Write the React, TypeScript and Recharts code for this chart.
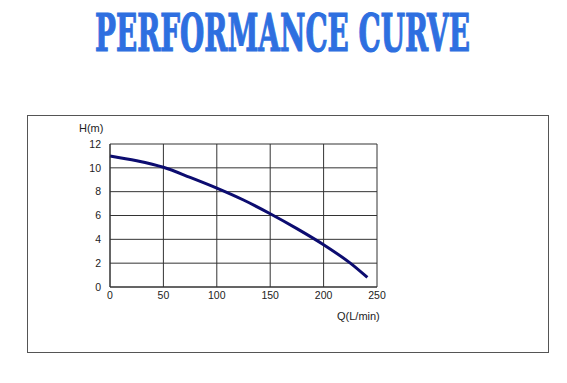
import React, { useLayoutEffect, useRef, useState } from 'react';
import { LineChart, Line, XAxis, YAxis, CartesianGrid } from 'recharts';

const flowQ = [0, 25, 50, 75, 100, 125, 150, 175, 200, 225, 241];
const headH = [11.0, 10.6, 10.05, 9.2, 8.3, 7.3, 6.15, 4.9, 3.55, 2.0, 0.8];
const xTicks = [0, 50, 100, 150, 200, 250];
const yTicks = [0, 2, 4, 6, 8, 10, 12];
const titleText = 'PERFORMANCE CURVE';
const xLabel = 'Q(L/min)';
const yLabel = 'H(m)';

const data = flowQ.map((q, i) => ({ q, h: headH[i] }));

const tickStyle = { fontFamily: 'Liberation Sans, Arial, sans-serif', fontSize: 10.5, fill: '#222' };

function Title() {
  const ref = useRef<SVGTextElement | null>(null);
  const [sx, setSx] = useState(0.6);
  useLayoutEffect(() => {
    if (ref.current) {
      const len = ref.current.getComputedTextLength();
      if (len > 0) setSx(375 / len);
    }
  }, []);
  return (
    <svg width={567} height={100} style={{ position: 'absolute', left: 0, top: 0 }}>
      <text
        ref={ref}
        transform={`translate(95,51) scale(${sx},1)`}
        x={0}
        y={0}
        fontFamily="DejaVu Serif Condensed, DejaVu Serif, serif"
        fontWeight="bold"
        fontSize={52}
        fill="#2e6fe0"
        stroke="#2e6fe0"
        strokeWidth={1.2}
      >
        {titleText}
      </text>
    </svg>
  );
}

export default function App() {
  return (
    <div style={{ position: 'absolute', left: 0, top: 0, width: 567, height: 383, background: '#fff', overflow: 'hidden' }}>
      <Title />
      <div style={{ position: 'absolute', left: 27, top: 115, width: 520, height: 236, border: '1px solid #555' }} />
      <div style={{ position: 'absolute', left: 0, top: 0 }}>
        <LineChart
          width={567}
          height={383}
          data={data}
          margin={{ top: 144, right: 190, bottom: 0, left: 0 }}
        >
          <CartesianGrid stroke="#333" strokeWidth={1} />
          <XAxis
            dataKey="q"
            type="number"
            domain={[0, 250]}
            ticks={xTicks}
            tickLine={false}
            tickSize={0}
            tickMargin={5}
            axisLine={{ stroke: '#333' }}
            tick={tickStyle}
            height={96}
          />
          <YAxis
            dataKey="h"
            type="number"
            domain={[0, 12]}
            ticks={yTicks}
            tickLine={false}
            tickSize={0}
            tickMargin={9}
            axisLine={{ stroke: '#333' }}
            tick={tickStyle}
            width={110}
          />
          <Line
            dataKey="h"
            type="monotone"
            stroke="#0c0c70"
            strokeWidth={3}
            dot={false}
            isAnimationActive={false}
          />
        </LineChart>
      </div>
      <div style={{ position: 'absolute', left: 79, top: 122, fontFamily: 'Liberation Sans, Arial, sans-serif', fontSize: 11, color: '#222', lineHeight: '13px' }}>
        {yLabel}
      </div>
      <div style={{ position: 'absolute', left: 337, top: 310, fontFamily: 'Liberation Sans, Arial, sans-serif', fontSize: 11, color: '#222', lineHeight: '13px' }}>
        {xLabel}
      </div>
    </div>
  );
}
